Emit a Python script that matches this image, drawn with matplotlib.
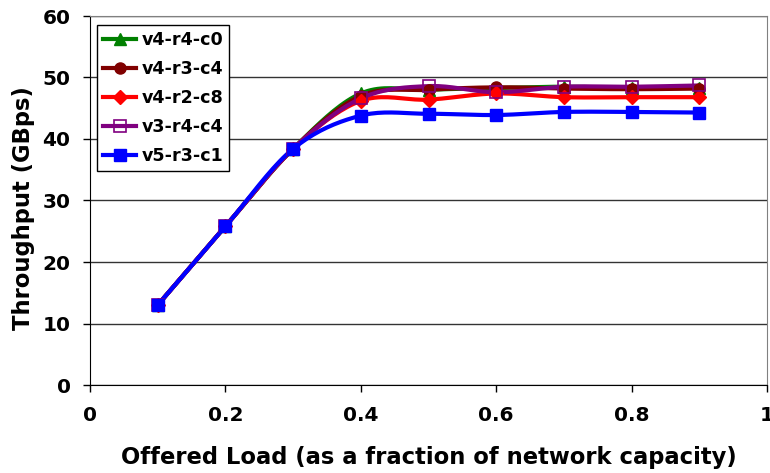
import numpy as np
import matplotlib
matplotlib.use("Agg")
import matplotlib.pyplot as plt

x = [0.1, 0.2, 0.3, 0.4, 0.5, 0.6, 0.7, 0.8, 0.9]
labels = ["v4-r4-c0", "v4-r3-c4", "v4-r2-c8", "v3-r4-c4", "v5-r3-c1"]
v4_r4_c0 = [13.0, 25.8, 38.4, 47.4, 48.0, 48.3, 48.5, 48.3, 48.3]
v4_r3_c4 = [13.0, 25.8, 38.4, 47.0, 48.0, 48.4, 48.2, 48.1, 48.2]
v4_r2_c8 = [13.0, 25.8, 38.4, 46.2, 46.4, 47.4, 46.8, 46.8, 46.8]
v3_r4_c4 = [13.0, 25.8, 38.4, 46.6, 48.6, 47.6, 48.5, 48.5, 48.7]
v5_r3_c1 = [13.0, 25.8, 38.4, 43.8, 44.1, 43.9, 44.4, 44.4, 44.3]
series = [v4_r4_c0, v4_r3_c4, v4_r2_c8, v3_r4_c4, v5_r3_c1]
colors = ["#008000", "#800000", "#FF0000", "#800080", "#0000FF"]
markers = ["^", "o", "D", "s", "s"]
msizes = [8, 8, 7, 8, 9]
xticks = [0, 0.2, 0.4, 0.6, 0.8, 1]
xticklabels = ["0", "0.2", "0.4", "0.6", "0.8", "1"]
yticks = [0, 10, 20, 30, 40, 50, 60]


def smooth(xs, ys, n=20):
    # Catmull-Rom style curve through the data points (Excel-like smoothing)
    xs = np.asarray(xs, float)
    ys = np.asarray(ys, float)
    px = np.concatenate([[2 * xs[0] - xs[1]], xs, [2 * xs[-1] - xs[-2]]])
    py = np.concatenate([[2 * ys[0] - ys[1]], ys, [2 * ys[-1] - ys[-2]]])
    ox, oy = [], []
    t = np.linspace(0, 1, n, endpoint=False)
    for i in range(1, len(px) - 2):
        for arr, out in ((px, ox), (py, oy)):
            p0, p1, p2, p3 = arr[i - 1], arr[i], arr[i + 1], arr[i + 2]
            out.extend(0.5 * ((2 * p1) + (-p0 + p2) * t
                              + (2 * p0 - 5 * p1 + 4 * p2 - p3) * t ** 2
                              + (-p0 + 3 * p1 - 3 * p2 + p3) * t ** 3))
    ox.append(xs[-1])
    oy.append(ys[-1])
    return np.array(ox), np.array(oy)


plt.rcParams['font.family'] = ['DejaVu Sans']
plt.rcParams['font.weight'] = 'bold'

fig = plt.figure(figsize=(7.7, 4.73), dpi=100)
ax = fig.add_axes([90 / 770, 1 - 385 / 473, 677 / 770, 369 / 473])

handles = []
for ys, c, m, ms, lab in zip(series, colors, markers, msizes, labels):
    sx, sy = smooth(x, ys)
    ax.plot(sx, sy, color=c, lw=3, zorder=3)
    mfc = 'none' if lab == "v3-r4-c4" else c
    ax.plot(x, ys, linestyle='none', marker=m, ms=ms, color=c,
            mfc=mfc, mec=c, mew=1.2 if mfc == 'none' else 1, zorder=4)
    h, = ax.plot([], [], color=c, lw=3, marker=m, ms=ms, mfc=mfc, mec=c,
                 mew=1.2 if mfc == 'none' else 1, label=lab)
    handles.append(h)

ax.set_xlim(0, 1)
ax.set_ylim(0, 60)
ax.set_xticks(xticks)
ax.set_xticklabels(xticklabels)
ax.set_yticks(yticks)
ax.yaxis.grid(True, color='#333333', lw=1)
ax.set_axisbelow(True)
ax.tick_params(axis='both', direction='out', length=5, width=1, labelsize=14.5)
ax.tick_params(axis='y', pad=9)
ax.tick_params(axis='x', pad=10)
for lbl in ax.get_xticklabels() + ax.get_yticklabels():
    lbl.set_fontweight('bold')
ax.spines['left'].set_color('black')
ax.spines['bottom'].set_color('black')
ax.spines['top'].set_color('#808080')
ax.spines['right'].set_color('#808080')

ax.set_xlabel("Offered Load (as a fraction of network capacity)",
              fontsize=16.3, fontweight='bold', labelpad=15)
ax.set_ylabel("Throughput (GBps)", fontsize=16.3, fontweight='bold', labelpad=4)
ax.yaxis.set_label_coords(-0.081, 0.48)

leg = ax.legend(handles=handles, loc='upper left', bbox_to_anchor=(0.01, 0.975),
                fancybox=False, edgecolor='black', framealpha=1,
                prop={'weight': 'bold', 'size': 12.6}, handlelength=1.9,
                handletextpad=0.3, labelspacing=0.62, borderpad=0.35,
                borderaxespad=0)
leg.get_frame().set_linewidth(1)

fig.savefig("out.png", dpi=100)
